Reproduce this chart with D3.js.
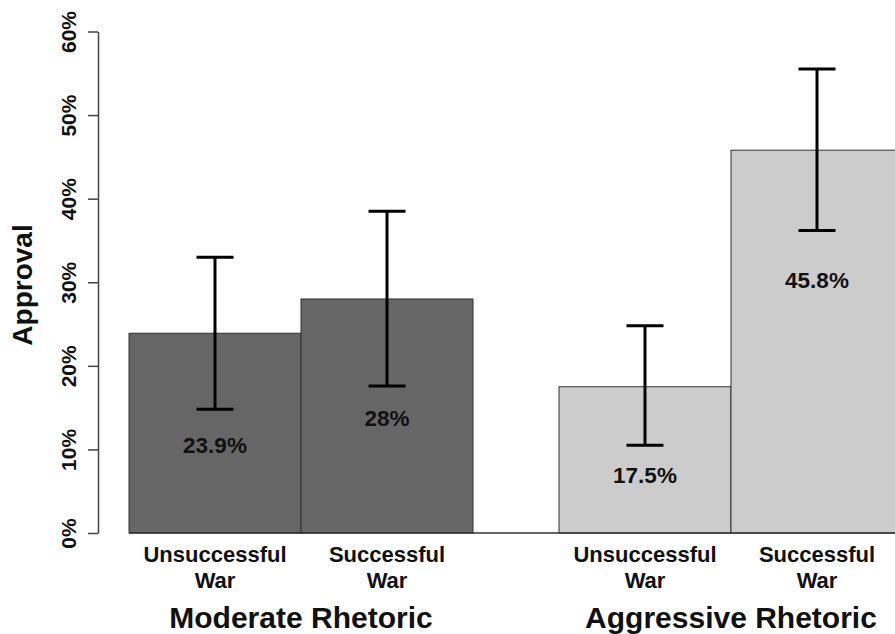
<!DOCTYPE html>
<html>
<head>
<meta charset="utf-8">
<script src="https://cdn.jsdelivr.net/npm/d3@7"></script>
<style>
  body { margin: 0; background: #fff; }
  text { font-family: "Liberation Sans", Arial, sans-serif; font-weight: bold; fill: #111; }
</style>
</head>
<body>
<svg width="895" height="634"></svg>
<script>
var svg_width = 895;
var svg_height = 634;

// DATA
var groups = ["Moderate Rhetoric", "Aggressive Rhetoric"];
var conditions = [["Unsuccessful", "War"], ["Successful", "War"]];
var approval = [23.9, 28, 17.5, 45.8];     // bar heights, %
var ciLow = [14.8, 17.6, 10.5, 36.2];      // error bar lower ends, %
var ciHigh = [33.0, 38.5, 24.8, 55.5];     // error bar upper ends, %
var labelAt = [10.5, 13.8, 6.9, 30.3];     // where the value text sits, %
var yTicks = [0, 10, 20, 30, 40, 50, 60];
var groupFill = ["#666666", "#cccccc"];

var bars = approval.map(function(v, i) {
  return {
    group: Math.floor(i / 2),
    cond: i % 2,
    value: v,
    lo: ciLow[i],
    hi: ciHigh[i],
    labelY: labelAt[i]
  };
});

// SCALES
// bars are one unit wide, half a unit between the two groups (like R barplot)
var xScale = d3.scaleLinear()
               .domain([0, 4.5])
               .range([129, 903]);
var yScale = d3.scaleLinear()
               .domain([0, 60])
               .range([533, 31.5]);

function barLeft(d) { return d.group * 2.5 + d.cond; }
function barMid(d) { return xScale(barLeft(d) + 0.5); }

var svg = d3.select("svg");

// BARS
svg.selectAll("rect.bar")
    .data(bars)
    .enter()
    .append("rect")
      .attr("class", "bar")
      .attr("x", function(d) { return xScale(barLeft(d)); })
      .attr("y", function(d) { return yScale(d.value); })
      .attr("width", function(d) { return xScale(barLeft(d) + 1) - xScale(barLeft(d)); })
      .attr("height", function(d) { return yScale(0) - yScale(d.value); })
      .attr("fill", function(d) { return groupFill[d.group]; })
      .attr("stroke", "#333")
      .attr("stroke-width", 1);

// baseline under the bars
svg.append("line")
    .attr("x1", xScale(0))
    .attr("x2", xScale(4.5))
    .attr("y1", yScale(0))
    .attr("y2", yScale(0))
    .attr("stroke", "#333")
    .attr("stroke-width", 1.5);

// ERROR BARS
var eb = svg.selectAll("g.err")
    .data(bars)
    .enter()
    .append("g")
      .attr("class", "err")
      .attr("stroke", "#000")
      .attr("stroke-width", 3);
eb.append("line")
    .attr("x1", barMid).attr("x2", barMid)
    .attr("y1", function(d) { return yScale(d.lo); })
    .attr("y2", function(d) { return yScale(d.hi); });
eb.append("line")
    .attr("x1", function(d) { return barMid(d) - 18.5; })
    .attr("x2", function(d) { return barMid(d) + 18.5; })
    .attr("y1", function(d) { return yScale(d.hi); })
    .attr("y2", function(d) { return yScale(d.hi); });
eb.append("line")
    .attr("x1", function(d) { return barMid(d) - 18.5; })
    .attr("x2", function(d) { return barMid(d) + 18.5; })
    .attr("y1", function(d) { return yScale(d.lo); })
    .attr("y2", function(d) { return yScale(d.lo); });

// VALUE LABELS
svg.selectAll("text.val")
    .data(bars)
    .enter()
    .append("text")
      .attr("class", "val")
      .attr("x", barMid)
      .attr("y", function(d) { return yScale(d.labelY); })
      .attr("dy", "0.36em")
      .attr("font-size", "22.5px")
      .style("text-anchor", "middle")
      .text(function(d) { return d.value + "%"; });

// Y AXIS
var yAxis = d3.axisLeft(yScale)
              .tickValues(yTicks)
              .tickSize(10)
              .tickSizeOuter(0)
              .tickFormat(function(d) { return d + "%"; });
var gy = svg.append("g")
    .attr("transform", "translate(98, 0)")
    .call(yAxis);
gy.select(".domain").attr("stroke", "#444").attr("stroke-width", 1.5);
gy.selectAll(".tick line").attr("stroke", "#444").attr("stroke-width", 1.5);
gy.selectAll(".tick text")
    .attr("font-size", "21px")
    .attr("font-family", null)
    .attr("fill", "#111")
    .attr("x", 0)
    .attr("dy", 0)
    .attr("transform", "translate(-22, 0) rotate(-90)")
    .style("text-anchor", "middle");

// CATEGORY LABELS
var cat = svg.selectAll("text.cat")
    .data(bars)
    .enter()
    .append("text")
      .attr("class", "cat")
      .attr("font-size", "22px")
      .style("text-anchor", "middle");
cat.append("tspan")
    .attr("x", barMid)
    .attr("y", 562)
    .text(function(d) { return conditions[d.cond][0]; });
cat.append("tspan")
    .attr("x", barMid)
    .attr("y", 588)
    .text(function(d) { return conditions[d.cond][1]; });

// GROUP LABELS
svg.selectAll("text.grp")
    .data(groups)
    .enter()
    .append("text")
      .attr("class", "grp")
      .attr("x", function(d, i) { return xScale(i * 2.5 + 1); })
      .attr("y", 628)
      .attr("font-size", "30px")
      .style("text-anchor", "middle")
      .text(function(d) { return d; });

// AXIS TITLE
svg.append("text")
    .attr("transform", "translate(32, 285) rotate(-90)")
    .attr("font-size", "28px")
    .style("text-anchor", "middle")
    .text("Approval");
</script>
</body>
</html>
